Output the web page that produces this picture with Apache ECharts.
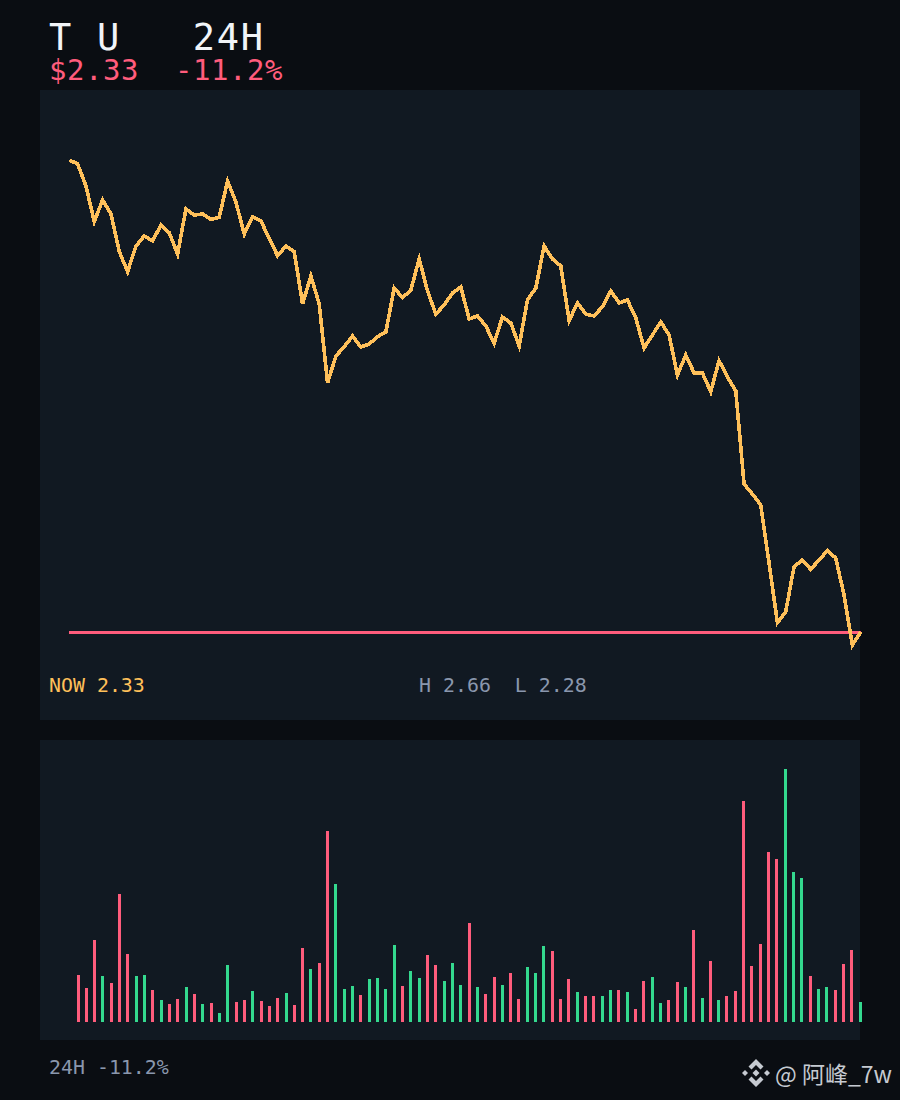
<!DOCTYPE html>
<html><head><meta charset="utf-8">
<style>html,body{margin:0;padding:0;background:#0a0d12}#c{width:900px;height:1100px}
svg path{shape-rendering:crispEdges}
svg path[fill="#c6cad1"]{shape-rendering:auto}
svg text[fill="#f1f4f8"]{letter-spacing:1.7px}
svg text[fill="#ff5c7c"]{letter-spacing:.55px}</style>
<script src="https://cdn.jsdelivr.net/npm/echarts@6/dist/echarts.min.js"></script>
</head><body><div id="c"></div>
<script>
const prices=[2.66,2.6569,2.6396,2.6117,2.6287,2.6177,2.5882,2.5725,2.5926,2.6005,2.5965,2.6091,2.603,2.5863,2.6216,2.6169,2.6177,2.6135,2.6151,2.6435,2.6271,2.602,2.6153,2.6122,2.5986,2.585,2.5926,2.5882,2.5472,2.5691,2.5472,2.4853,2.5064,2.5137,2.5221,2.5135,2.5158,2.5216,2.5252,2.5597,2.5521,2.5581,2.5824,2.5574,2.5393,2.5464,2.5558,2.5605,2.5354,2.5378,2.5299,2.5166,2.537,2.5323,2.5143,2.5503,2.5597,2.5926,2.5824,2.5769,2.5341,2.548,2.5393,2.5378,2.5451,2.5574,2.548,2.5503,2.5362,2.5127,2.5229,2.5331,2.5229,2.4915,2.5072,2.4931,2.4931,2.4785,2.5027,2.49,2.4792,2.4061,2.3983,2.3897,2.3442,2.2975,2.3061,2.3413,2.3466,2.3393,2.3466,2.3539,2.3482,2.3192,2.28,2.2902];
const refPrice=2.2896;
const volumes=[null,47,34,82,46,39,128,68,46,47,32,22,18,23,35,28,18,19,9,57,20,22,31,21,16,24,29,17,74,53,59,191,138,33,36,27,43,44,33,77,36,51,44,67,57,41,59,37,99,35,28,45,37,49,23,55,49,76,71,23,43,30,26,26,26,32,32,30,13,41,45,19,22,40,35,92,24,61,22,26,31,221,56,78,170,163,253,150,144,46,33,35,32,58,72,20];
const direction=["x","r","r","r","g","r","r","r","g","g","r","g","r","r","g","r","g","r","g","g","r","r","g","r","r","r","g","r","r","g","r","r","g","g","g","r","g","g","g","g","r","g","g","r","r","g","g","g","r","g","r","r","g","r","r","g","g","g","r","r","r","g","r","r","g","g","r","g","r","r","g","g","r","r","g","r","g","r","g","r","r","r","r","r","r","r","g","g","g","r","g","g","r","r","r","g"];
const slots=prices.map((_,i)=>i);
const titleText="T U   24H", priceText="$2.33  -11.2%", nowText="NOW 2.33", rangeText="H 2.66  L 2.28", footText="24H -11.2%", markText="@ 阿峰_7w";
const RED="#ff5c7c",GREEN="#34d98f",AMBER="#ffc05a",SLATE="#8a97ad",WHITE="#f1f4f8",MARK="#c6cad1";
const MONO='"DejaVu Sans Mono",monospace';
const chart=echarts.init(document.getElementById('c'),null,{renderer:'svg'});
const label=(x,y,text,size,fill)=>({type:'text',x,y,z:5,style:{text,fill,font:`${size}px ${MONO}`,verticalAlign:'middle'}});
chart.setOption({
 animation:false,backgroundColor:'#0a0d12',
 grid:[{left:69.3,width:791.4,top:160,height:485},{left:69.7,width:790.4,top:769,height:253}],
 xAxis:[{type:'category',gridIndex:0,data:slots,boundaryGap:false,show:false},{type:'category',gridIndex:1,data:slots,boundaryGap:false,show:false}],
 yAxis:[{type:'value',gridIndex:0,min:2.28,max:2.66,show:false},{type:'value',gridIndex:1,min:0,max:253,show:false}],
 series:[
  {name:'ref',type:'line',data:prices.map(()=>refPrice),symbol:'none',clip:false,z:3,lineStyle:{color:RED,width:3}},
  {name:'price',type:'line',data:prices,symbol:'none',clip:false,z:4,lineStyle:{color:AMBER,width:3.6,join:'miter'}},
  {name:'volume',type:'bar',xAxisIndex:1,yAxisIndex:1,barWidth:3,clip:false,z:4,
   data:volumes.map((v,i)=>({value:v,itemStyle:{color:direction[i]==='g'?GREEN:RED}}))}
 ],
 graphic:[
  {type:'rect',z:-10,silent:true,shape:{x:40,y:90,width:820,height:630},style:{fill:'#111922'}},
  {type:'rect',z:-10,silent:true,shape:{x:40,y:740,width:820,height:300},style:{fill:'#111922'}},
  label(49,37.5,titleText,37,WHITE),
  label(49,70,priceText,29,RED),
  label(49,685,nowText,19.9,AMBER),
  label(419,685,rangeText,19.9,SLATE),
  label(49,1067,footText,19.9,SLATE),
  {type:'text',x:775,y:1073,z:5,style:{text:markText,fill:MARK,font:'23px "Noto Sans CJK SC",sans-serif',verticalAlign:'middle'}},
  {type:'group',x:756,y:1073,z:5,children:[
   {type:'polygon',shape:{points:[[0,-14],[7.5,-6.5],[4.5,-3.5],[0,-8],[-4.5,-3.5],[-7.5,-6.5]]},style:{fill:MARK}},
   {type:'polygon',shape:{points:[[0,14],[7.5,6.5],[4.5,3.5],[0,8],[-4.5,3.5],[-7.5,6.5]]},style:{fill:MARK}},
   {type:'polygon',shape:{points:[[-14,0],[-11,-3],[-8,0],[-11,3]]},style:{fill:MARK}},
   {type:'polygon',shape:{points:[[14,0],[11,-3],[8,0],[11,3]]},style:{fill:MARK}},
   {type:'polygon',shape:{points:[[0,-3.5],[3.5,0],[0,3.5],[-3.5,0]]},style:{fill:MARK}}
  ]}
 ]
});
</script></body></html>
